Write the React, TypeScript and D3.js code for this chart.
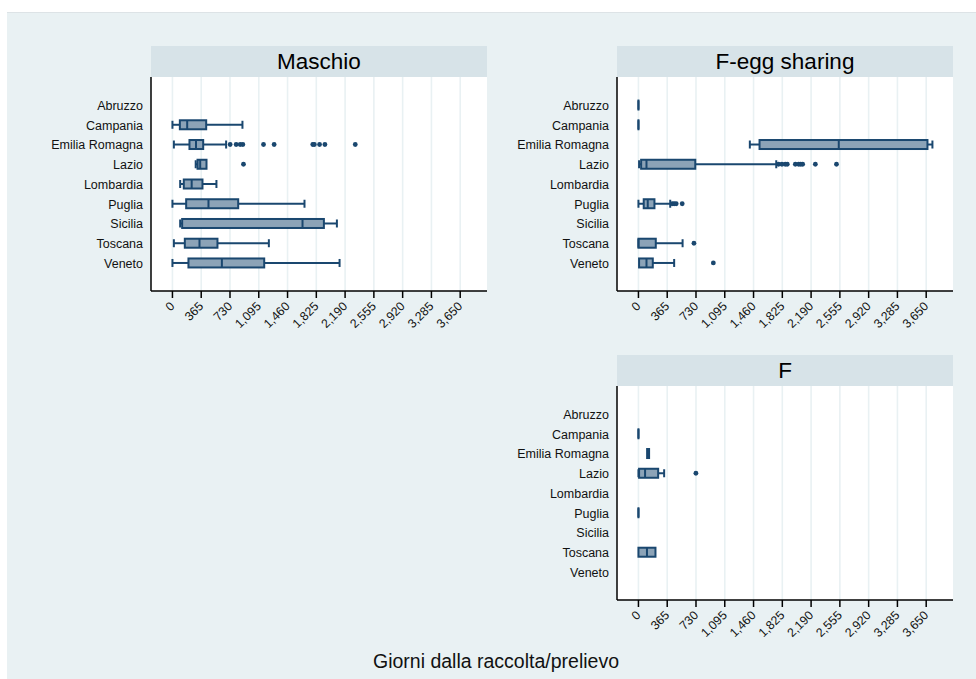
import React from "react";
import * as d3 from "d3";

const categories = ["Abruzzo", "Campania", "Emilia Romagna", "Lazio", "Lombardia", "Puglia", "Sicilia", "Toscana", "Veneto"];
const tickValues = [0, 365, 730, 1095, 1460, 1825, 2190, 2555, 2920, 3285, 3650];
const panelTitles = ["Maschio", "F-egg sharing", "F"];
const xTitle = "Giorni dalla raccolta/prelievo";

// [lower whisker, q1, median, q3, upper whisker]; null = no observations
const maschioStats: (number[] | null)[] = [
  null,
  [0, 94, 187, 428, 888],
  [18, 216, 299, 390, 681],
  [295, 318, 352, 432, 432],
  [98, 144, 244, 381, 558],
  [0, 174, 457, 834, 1675],
  [98, 123, 1650, 1921, 2086],
  [18, 157, 343, 571, 1223],
  [0, 203, 627, 1164, 2120],
];
const maschioOutliers: number[][] = [[], [], [732, 808, 859, 893, 1155, 1290, 1780, 1800, 1866, 1934, 2319], [901], [], [], [], [], []];

const feggStats: (number[] | null)[] = [
  [0, 0, 0, 0, 0],
  [0, 0, 0, 0, 0],
  [1413, 1536, 2541, 3666, 3729],
  [8, 34, 102, 721, 1748],
  null,
  [0, 67, 118, 203, 403],
  null,
  [0, 0, 0, 220, 560],
  [8, 8, 102, 182, 453],
];
const feggOutliers: number[][] = [[], [], [], [1777, 1820, 1862, 1888, 1990, 2032, 2057, 2083, 2244, 2512], [], [428, 453, 479, 555], [], [704], [950]];

const fStats: (number[] | null)[] = [
  null,
  [0, 0, 0, 0, 0],
  [110, 110, 122, 135, 135],
  [0, 8, 84, 250, 326],
  null,
  [0, 0, 0, 0, 0],
  null,
  [0, 0, 108, 216, 216],
  null,
];
const fOutliers: number[][] = [[], [], [], [729], [], [], [], [], []];

const NAVY = "#1a476f";
const BOXFILL = "#8ca3b7";
const BG = "#e9f1f3";
const HEADER = "#d7e3e8";
const GRID = "#e9f1f3";
const FONT = "'Liberation Sans', Arial, Helvetica, sans-serif";

const PW = 336;
const HH = 31;
const PH = 214;

type PanelProps = {
  title: string;
  stats: (number[] | null)[];
  outliers: number[][];
  x0: number;
  top: number;
};

function Panel({ title, stats, outliers, x0, top }: PanelProps) {
  const plotTop = top + HH;
  const plotBottom = plotTop + PH;
  const x = d3.scaleLinear().domain([-272, 3990]).range([x0, x0 + PW]);
  const y = d3.scalePoint<string>().domain(categories).range([plotTop, plotBottom]).padding(1.42);
  const fmt = d3.format(",");
  const bh = 9;
  const ch = 8;
  return (
    <g>
      <rect x={x0} y={top} width={PW} height={HH} fill={HEADER} />
      <text x={x0 + PW / 2} y={top + 22.5} textAnchor="middle" fontSize={22.5} fontFamily={FONT} fill="#000">
        {title}
      </text>
      <rect x={x0} y={plotTop} width={PW} height={PH} fill="#fff" />
      {tickValues.map((t) => (
        <line key={"g" + t} x1={x(t)} x2={x(t)} y1={plotTop} y2={plotBottom} stroke={GRID} strokeWidth={1.6} />
      ))}
      {categories.map((c, i) => {
        const s = stats[i];
        const cy = y(c)!;
        const out = outliers[i];
        return (
          <g key={c}>
            <text x={x0 - 8} y={cy + 0.5} dy="0.35em" textAnchor="end" fontSize={12.5} fontFamily={FONT} fill="#111">
              {c}
            </text>
            {s && (
              <g>
                {s[0] < s[1] && (
                  <g>
                    <line x1={x(s[0])} x2={x(s[1])} y1={cy} y2={cy} stroke={NAVY} strokeWidth={2} />
                    <line x1={x(s[0])} x2={x(s[0])} y1={cy - ch / 2} y2={cy + ch / 2} stroke={NAVY} strokeWidth={2} />
                  </g>
                )}
                {s[4] > s[3] && (
                  <g>
                    <line x1={x(s[3])} x2={x(s[4])} y1={cy} y2={cy} stroke={NAVY} strokeWidth={2} />
                    <line x1={x(s[4])} x2={x(s[4])} y1={cy - ch / 2} y2={cy + ch / 2} stroke={NAVY} strokeWidth={2} />
                  </g>
                )}
                <rect
                  x={x(s[1])}
                  y={cy - bh / 2}
                  width={Math.max(0.01, x(s[3]) - x(s[1]))}
                  height={bh}
                  fill={BOXFILL}
                  stroke={NAVY}
                  strokeWidth={2}
                />
                <line x1={x(s[2])} x2={x(s[2])} y1={cy - bh / 2} y2={cy + bh / 2} stroke={NAVY} strokeWidth={2} />
              </g>
            )}
            {out.map((v, k) => (
              <circle key={k} cx={x(v)} cy={cy} r={2.4} fill={NAVY} />
            ))}
          </g>
        );
      })}
      <line x1={x0} x2={x0} y1={plotTop} y2={plotBottom} stroke="#000" strokeWidth={1.5} />
      <line x1={x0} x2={x0 + PW} y1={plotBottom} y2={plotBottom} stroke="#000" strokeWidth={1.5} />
      {tickValues.map((t) => (
        <g key={"t" + t}>
          <line x1={x(t)} x2={x(t)} y1={plotBottom} y2={plotBottom + 7} stroke="#000" strokeWidth={1.5} />
          <text
            transform={`translate(${x(t) + 3},${plotBottom + 16}) rotate(-45)`}
            textAnchor="end"
            fontSize={12.3}
            fontFamily={FONT}
            fill="#111"
          >
            {fmt(t)}
          </text>
        </g>
      ))}
    </g>
  );
}

export default function App() {
  return (
    <div style={{ position: "absolute", left: 0, top: 0 }}>
      <svg width={976} height={679} style={{ display: "block" }}>
        <rect x={0} y={0} width={976} height={679} fill="#fff" />
        <rect x={7} y={12} width={969} height={667} fill={BG} />
        <line x1={7} x2={976} y1={12.5} y2={12.5} stroke="#dde3e6" strokeWidth={1} />
        <Panel title={panelTitles[0]} stats={maschioStats} outliers={maschioOutliers} x0={151} top={46} />
        <Panel title={panelTitles[1]} stats={feggStats} outliers={feggOutliers} x0={617} top={46} />
        <Panel title={panelTitles[2]} stats={fStats} outliers={fOutliers} x0={617} top={355} />
        <text x={496} y={668} textAnchor="middle" fontSize={19.5} fontFamily={FONT} fill="#111">
          {xTitle}
        </text>
      </svg>
    </div>
  );
}
